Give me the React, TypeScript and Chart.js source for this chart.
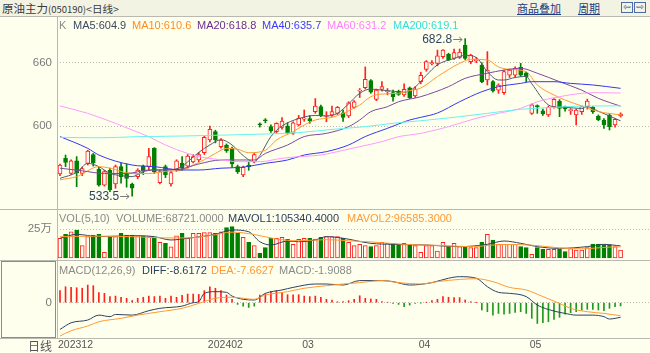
import React, { useEffect, useRef } from "react";
import { Chart, registerables } from "chart.js";

Chart.register(...registerables);

// ---------- colours ----------
const BG = "#ffffee";
const UP = "#ff2020";
const DOWN = "#008000";
const LATIN = '"Liberation Sans", Arial, sans-serif';
const CJK = '"Noto Sans CJK SC", "Liberation Sans", sans-serif';

// ---------- candles (index 0 = late Dec 2023 ... 101 = late May 2024) ----------
const OPEN = [554.5,569.4,555,567,555,564.6,573,559,544,558, 545,561.5,554.5,545,552,562,561.5,578.8,546.3,561.5, 545,558.3,564.6,562,566,567.8,574.7,586.7,594.6,580.4, 582,578.8,561.5,553.6,563,566,601.5,605.3,599.4,594.6, 598.7,600,593,601,606.5,607,613.6,618.3,609,610.4, 612,612.6,609.5,617.7,633,636.3,643,625.3,634.7,632.5, 631.6,633,629.4,636.3,628.4,642,653.7,659,659.4,665.7, 668,664,665,676.8,661,662,657.8,643.6,642,634, 631.6,648.3,648.3,655.6,650.5,612,618.5,614.5,610.4,618.3, 623.7,618.5,614.6,610.4,613.6,618.3,617.7,609.5,605.7,610.4, 601,609.5];
const HIGH = [564,572.5,568,571,561,577,574,561,558,560, 563,564.6,564,546,559.5,563,578.8,579.5,558,563, 557,568,571,573,573,575,591,600,596,588, 583,580,563,562,566,574,603,607,601,603, 608,603,604,610,615.2,610,626,619.8,613.6,619, 618.5,615,623,624,635.5,656,644,635,642,635.5, 634,634,640,637,637.3,651,662,662,672,672.5, 669,673,673,682.8,668,665,660,670.5,643,640, 653,654,656,659.4,651,621,620,616,619,626, 625,619,616.5,616,619,625.5,618.5,610.5,607,612, 607,612.5];
const LOW = [553,561.5,554,542.5,553,563,562,543,543,537.8, 541,545.7,542,533.5,550,554,558,555,545,551, 543,557,558,560,565,566,573,585,584,579, 575,560.8,555,552,558,565,599,603,594,593, 597,592.5,592,600,604.5,602.6,612,608.8,604,609, 611,604.3,608,617,627,635,631,624,633,629.5, 623.5,629,628,626,627,640,652,658,657,664, 662,663,664,663,659,660,641,638.9,632,631, 630,646,646,647,642,611,612,610,609,617, 608.8,614,611,601,611,616,612,605,597.8,596.2, 599,608.5];
const CLOSE = [563,565.6,567,555.5,559.6,576.3,565,543.8,556.7,539.3, 561.5,552,550.4,541,558.3,557.7,571,556.7,556.7,553.6, 555.8,567,560,571.6,571,573,589.3,596.8,586.7,586.7, 576.6,564,556.7,560.8,561.5,573,601,605,595.6,602.5, 604.7,593.7,603,607.3,607,605,619,609.8,609.5,613.6, 617.7,608.2,622,623,634,644.2,632,634,637.3,633, 627.8,630,634.7,626.9,634.7,648,661,660,666.4,672, 662.6,669.5,670,664,667.3,662.6,642,653,633.2,638.9, 651.5,653,654.7,648.3,646.7,620,618.3,611.4,617.7,625.3, 616.7,616.3,615.2,615.2,618.3,623.7,613.6,605.7,601,599.4, 606.3,611.4];

// ---------- moving averages: [candle index, value] ----------
const MA5: [number, number][] = [[0,550.4],[3,556],[5,564.6],[7,561.5],[9,555.1],[11,553],[13,552],[15,556.7],[17,558.3],[19,558.3],[22,561.5],[23,566],[25,575],[27,582],[29,587],[31,582],[33,572],[35,566],[36,572],[38,590],[40,600],[43,607],[46,610],[48,609.5],[50,612],[52,621],[54,631],[56,635],[58,634],[60,633],[62,632],[64,637],[66,648],[68,658],[71,664],[73,667],[75,665],[77,651.5],[79,643.6],[80,643.6],[82,646],[84,647],[85,640],[88,620],[90,617.7],[91,617.7],[94,616.5],[95,618.3],[97,614],[99,609.5],[101,604.9]];
const MA10: [number, number][] = [[0,549],[3,552],[7,561.5],[9,560],[13,555],[16,555],[19,557],[22,558.3],[24,563],[26,568],[28,574],[30,578.8],[32,578],[34,574.7],[37,577],[39,586.7],[42,594.6],[44,601],[46,605.7],[49,608.2],[51,612],[54,619.9],[56,627.8],[58,630.3],[61,631],[63,633.5],[65,636],[68,646.8],[72,659.4],[74,663.2],[77,662.6],[79,656],[81,653.7],[84,651.5],[86,638.9],[89,629.4],[91,624.6],[94,619],[96,615.2],[98,612.6],[101,610.6]];
const MA20: [number, number][] = [[0,560],[4,557.5],[8,555],[12,555],[16,558.3],[21,558.6],[25,564],[29,567.8],[31,567.8],[35,567.8],[37,574],[41,582],[44,590],[48,593],[52,599.4],[54,605.7],[56,613.6],[59,618.3],[61,623],[65,627.8],[70,637.3],[73,645.2],[77,650],[80,653],[83,654.7],[86,650],[90,642],[94,634],[97,626.2],[101,618.8]];
const MA40: [number, number][] = [[0,590],[5,578.8],[7,572.5],[13,563],[17,561.5],[22,558.3],[25,558.3],[29,560],[33,561],[37,564.6],[41,567.8],[44,572.5],[48,575.7],[52,582],[55,590],[59,597.8],[63,605.7],[65,608.2],[68,612.3],[72,623],[76,632.5],[79,637.3],[83,640.4],[85,642],[89,642],[92,640.4],[96,638.9],[101,635.7]];
const MA60: [number, number][] = [[0,619],[5,612],[10,602.5],[13,596.2],[16,589.9],[19,582],[23,574],[26,570],[29,568],[32,566.2],[36,566.2],[40,569.4],[43,570.9],[47,572.5],[50,575.7],[54,580.4],[58,585.2],[61,589.9],[65,593],[70,599.4],[75,607.3],[79,612],[83,616.7],[86,623],[90,627.8],[94,631],[97,631.6],[101,631.2]];
const MA200: [number, number][] = [[0,589.3],[7,588.8],[14,589.9],[22,590.5],[29,591.3],[37,592.4],[43,593.7],[49,596.8],[55,599.4],[61,603.2],[65,605],[71,608.2],[77,612],[83,615.8],[89,617.7],[95,619],[101,619.1]];

// ---------- volume (thousand lots) ----------
const VOLUME = [172,206,229,244,108,186,200,206,49,180, 186,215,200,200,194,194,186,172,136,127, 98,194,215,172,215,215,221,221,215,229, 264,273,215,180,136,108,41,90,172,172, 180,162,119,162,172,172,165,180,186,186, 186,172,137,108,119,108,99,108,137,128, 128,119,128,119,108,49,108,108,61,137, 99,128,99,99,90,90,137,206,157,119, 119,119,119,99,90,32,90,76,76,76, 76,55,81,70,70,90,122,122,113,113, 99,68.7];
const MAVOL1: [number, number][] = [[0,172],[3,206],[7,186],[13,194],[17,186],[20,157],[23,172],[28,206],[31,244],[34,229],[36,142],[38,113],[41,148],[43,142],[46,157],[48,186],[51,172],[56,128],[60,119],[66,113],[72,99],[77,119],[80,148],[83,128],[86,99],[90,84],[95,99],[98,119],[101,105.3]];
const MAVOL2: [number, number][] = [[0,186],[7,190],[13,186],[19,175],[23,175],[27,195],[31,225],[35,205],[39,165],[43,150],[48,160],[52,150],[56,140],[62,119],[68,110],[74,99],[80,118],[85,112],[90,88],[94,80],[99,95],[101,96.6]];

// ---------- MACD ----------
const MACD_BAR = [7.1,9.4,9.0,8.8,8.5,10.4,10.0,5.9,5.5,3.6, 3.9,3.2,2.6,1.2,2.6,3.2,3.9,3.6,3.9,2.6, 3.9,3.2,4.3,5.1,5.1,4.9,7.1,9.4,8.5,7.1, 4.5,2.0,-1.0,-2.0,-2.8,-2.0,4.5,5.1,6.5,7.1, 5.9,4.7,4.7,4.7,3.9,3.6,3.9,3.2,2.0,1.6, 0.6,0.6,1.2,2.0,4.1,2.6,2.2,2.0,0.6,0.2, -0.4,-1.0,-2.4,-1.4,-0.4,-0.1,0.1,1.2,2.0,3.6, 3.2,3.0,3.0,1.6,0.6,0.1,-4.3,-5.3,-7.3,-6.3, -6.7,-6.3,-5.7,-5.3,-6.3,-9.2,-12.2,-11.8,-11.2,-9.8, -8.6,-6.7,-5.9,-5.3,-4.3,-3.9,-3.9,-4.3,-4.7,-3.3, -2.4,-1.9];
const DIFF: [number, number][] = [[0,-15.7],[2,-11.8],[5,-10.2],[7,-7.3],[9,-8.2],[10,-6.9],[13,-7.3],[16,-4.7],[18,-3.3],[22,-2.0],[24,0],[25,0.6],[26,5.5],[28,6.5],[30,6.1],[31,3.9],[33,2.0],[35,1.6],[37,5.5],[40,7.5],[42,9.0],[46,11.0],[48,11.0],[51,10.4],[54,13.0],[58,13.0],[60,12.4],[63,10.4],[67,11.8],[70,14.4],[72,15.3],[75,14.4],[77,9.4],[79,6.1],[81,5.5],[84,3.6],[86,-1.4],[89,-4.9],[91,-6.3],[93,-7.3],[96,-7.3],[98,-8.2],[99,-9.6],[101,-8.6]];
const DEA: [number, number][] = [[0,-19.6],[2,-16.5],[5,-13.7],[7,-11.2],[11,-9.2],[14,-7.3],[18,-5.3],[22,-3.3],[25,-0.4],[28,2.6],[31,3.2],[35,2.0],[37,4.5],[41,6.5],[44,8.5],[48,10.0],[51,11.0],[54,11.8],[58,13.0],[61,11.8],[65,11.0],[68,12.4],[72,13.7],[75,14.1],[78,12.4],[81,9.0],[84,7.5],[87,3.6],[90,-0.4],[92,-3.3],[95,-5.3],[98,-6.3],[101,-7.66]];

// ---------- axis labels ----------
const DATE_TICK_INDEX = [0, 27, 44, 65, 85];
const DATE_TICK_TEXT = ["202312", "202402", "03", "04", "05"];
const PRICE_TICKS = [600, 660];
const VOL_TICKS = [250];
const VOL_TICK_TEXT = ["25万"];
const MACD_TICKS = [0];

const PRICE_LEGEND = [
  { t: "K", c: "#8a8a8a", x: 59 },
  { t: "MA5:604.9", c: "#3c4a60", x: 73 },
  { t: "MA10:610.6", c: "#ff8c1a", x: 132 },
  { t: "MA20:618.8", c: "#6b2d8f", x: 197 },
  { t: "MA40:635.7", c: "#3a3aff", x: 262 },
  { t: "MA60:631.2", c: "#ff80ff", x: 327 },
  { t: "MA200:619.1", c: "#33dddd", x: 393 },
];
const VOL_LEGEND = [
  { t: "VOL(5,10)", c: "#8a8a8a", x: 59 },
  { t: "VOLUME:68721.0000", c: "#8a8a8a", x: 116 },
  { t: "MAVOL1:105340.4000", c: "#2c4060", x: 228 },
  { t: "MAVOL2:96585.3000", c: "#ff9933", x: 347 },
];
const MACD_LEGEND = [
  { t: "MACD(12,26,9)", c: "#8a8a8a", x: 59 },
  { t: "DIFF:-8.6172", c: "#2c4060", x: 142 },
  { t: "DEA:-7.6627", c: "#ff9933", x: 211 },
  { t: "MACD:-1.9088", c: "#8a8a8a", x: 279 },
];

const N = OPEN.length;
const IDX = Array.from({ length: N }, (_, i) => i);
const X_MIN = -0.54;
const X_MAX = 106.3;
const isUp = (i: number) => CLOSE[i] >= OPEN[i];

const yAxisFit = (scale: any) => {
  scale.width = 57;
  scale.paddingTop = 0;
  scale.paddingBottom = 0;
};

const lineDs = (pts: [number, number][], color: string) => ({
  type: "line",
  data: pts.map(([x, y]) => ({ x, y })),
  borderColor: color,
  borderWidth: 1,
  pointRadius: 0,
  fill: false,
  cubicInterpolationMode: "monotone",
  order: 0,
});

const baseOptions = (yMin: number, yMax: number, ticks: number[], tickText?: (v: number) => string) => ({
  responsive: false,
  animation: false,
  events: [],
  devicePixelRatio: 1,
  layout: { padding: 0 },
  plugins: { legend: { display: false }, tooltip: { enabled: false } },
  scales: {
    x: { type: "linear", min: X_MIN, max: X_MAX, display: false, offset: false },
    y: {
      type: "linear",
      position: "left",
      min: yMin,
      max: yMax,
      afterFit: yAxisFit,
      afterBuildTicks: (s: any) => {
        s.ticks = ticks.map((v) => ({ value: v }));
      },
      ticks: {
        padding: 5,
        color: "#7a7a7a",
        font: { family: '"Liberation Sans", "Noto Sans CJK SC", sans-serif', size: 11.5 },
        callback: (v: number) => (tickText ? tickText(v) : String(v)),
      },
      grid: { color: "#bdbdb5", drawTicks: false, lineWidth: 1 },
      border: { display: false, dash: [1, 2] },
    },
  },
});

const extremaPlugin = {
  id: "extrema",
  afterDatasetsDraw(chart: any) {
    const { ctx, scales } = chart;
    const xs = scales.x;
    const ys = scales.y;
    let hi = 0;
    let lo = 0;
    for (let i = 0; i < N; i++) {
      if (HIGH[i] > HIGH[hi]) hi = i;
      if (LOW[i] < LOW[lo]) lo = i;
    }
    const draw = (idx: number, val: number) => {
      const px = xs.getPixelForValue(idx);
      const py = Math.round(ys.getPixelForValue(val)) + 0.5;
      ctx.save();
      ctx.font = `12px ${LATIN}`;
      ctx.fillStyle = "#2d4660";
      ctx.textAlign = "right";
      ctx.textBaseline = "middle";
      ctx.fillText(val.toFixed(1), px - 13, py);
      ctx.strokeStyle = "#7a7a7a";
      ctx.lineWidth = 1;
      ctx.beginPath();
      ctx.moveTo(px - 12, py);
      ctx.lineTo(px - 3, py);
      ctx.moveTo(px - 6, py - 2.5);
      ctx.lineTo(px - 3, py);
      ctx.lineTo(px - 6, py + 2.5);
      ctx.stroke();
      ctx.restore();
    };
    draw(hi, HIGH[hi]);
    draw(lo, LOW[lo]);
  },
};

function priceConfig(): any {
  const opts: any = baseOptions(521.33, 703.32, PRICE_TICKS);
  return {
    type: "bar",
    data: {
      datasets: [
        lineDs(MA200, "#66f2f2"),
        lineDs(MA60, "#ff99ff"),
        lineDs(MA40, "#3636ee"),
        lineDs(MA20, "#7a4aa0"),
        lineDs(MA10, "#ff9a30"),
        lineDs(MA5, "#4f5d70"),
        {
          type: "bar",
          data: IDX.map((i) => ({ x: i, y: [OPEN[i], CLOSE[i]] })),
          backgroundColor: IDX.map((i) => (isUp(i) ? BG : DOWN)),
          borderColor: IDX.map((i) => (isUp(i) ? UP : DOWN)),
          borderWidth: 1,
          borderSkipped: false,
          barThickness: 4,
          maxBarThickness: 4,
          minBarLength: 1,
          grouped: false,
          order: 1,
        },
        {
          type: "bar",
          data: IDX.map((i) => ({ x: i, y: [LOW[i], HIGH[i]] })),
          backgroundColor: IDX.map((i) => (isUp(i) ? UP : DOWN)),
          borderWidth: 0,
          barThickness: 1,
          maxBarThickness: 1,
          grouped: false,
          order: 2,
        },
      ],
    },
    options: opts,
    plugins: [extremaPlugin],
  };
}

function volConfig(): any {
  const opts: any = baseOptions(-17.4, 418.1, VOL_TICKS, (v) => VOL_TICK_TEXT[VOL_TICKS.indexOf(v)] ?? "");
  return {
    type: "bar",
    data: {
      datasets: [
        lineDs(MAVOL2, "#ff9933"),
        lineDs(MAVOL1, "#2c4060"),
        {
          type: "bar",
          data: IDX.map((i) => ({ x: i, y: VOLUME[i] })),
          backgroundColor: IDX.map((i) => (isUp(i) ? BG : DOWN)),
          borderColor: IDX.map((i) => (isUp(i) ? UP : DOWN)),
          borderWidth: 1,
          borderSkipped: false,
          barThickness: 4,
          maxBarThickness: 4,
          grouped: false,
          order: 1,
        },
      ],
    },
    options: opts,
  };
}

function macdConfig(): any {
  const opts: any = baseOptions(-20.76, 24.53, MACD_TICKS);
  opts.scales.x = {
    type: "linear",
    min: X_MIN,
    max: X_MAX,
    offset: false,
    position: "bottom",
    afterFit: (s: any) => {
      s.height = 15;
      s.paddingLeft = 0;
      s.paddingRight = 0;
    },
    afterBuildTicks: (s: any) => {
      s.ticks = DATE_TICK_INDEX.map((v) => ({ value: v }));
    },
    ticks: {
      align: "start",
      labelOffset: -2,
      padding: 1,
      maxRotation: 0,
      autoSkip: false,
      color: "#555555",
      font: { family: LATIN, size: 10.5 },
      callback: (v: number) => DATE_TICK_TEXT[DATE_TICK_INDEX.indexOf(v)] ?? "",
    },
    grid: { display: false, drawTicks: false },
    border: { display: false },
  };
  return {
    type: "bar",
    data: {
      datasets: [
        lineDs(DEA, "#ff9933"),
        lineDs(DIFF, "#2c4060"),
        {
          type: "bar",
          data: IDX.map((i) => ({ x: i, y: MACD_BAR[i] })),
          backgroundColor: IDX.map((i) => (MACD_BAR[i] >= 0 ? "#ff2020" : "#1f9a1f")),
          borderWidth: 0,
          barThickness: 1,
          maxBarThickness: 1,
          grouped: false,
          order: 1,
        },
      ],
    },
    options: opts,
  };
}

const abs = (s: React.CSSProperties): React.CSSProperties => ({ position: "absolute", ...s });
const LINE = "#b9b9b1";

function Legend({ items, top }: { items: { t: string; c: string; x: number }[]; top: number }) {
  return (
    <>
      {items.map((it) => (
        <span
          key={it.t}
          style={abs({ left: it.x, top, fontFamily: LATIN, fontSize: 11, lineHeight: "13px", color: it.c, whiteSpace: "nowrap" })}
        >
          {it.t}
        </span>
      ))}
    </>
  );
}

export default function App() {
  const priceRef = useRef<HTMLCanvasElement>(null);
  const volRef = useRef<HTMLCanvasElement>(null);
  const macdRef = useRef<HTMLCanvasElement>(null);

  useEffect(() => {
    const charts = [
      new Chart(priceRef.current as HTMLCanvasElement, priceConfig()),
      new Chart(volRef.current as HTMLCanvasElement, volConfig()),
      new Chart(macdRef.current as HTMLCanvasElement, macdConfig()),
    ];
    return () => charts.forEach((c) => c.destroy());
  }, []);

  return (
    <div style={{ position: "fixed", left: 0, top: 0, width: 650, height: 353, background: BG, overflow: "hidden" }}>
      {/* header bar */}
      <div style={abs({ left: 0, top: 0, width: 650, height: 16, background: "#f3f3e3", borderBottom: `1px solid ${LINE}` })} />
      <div style={abs({ left: 2, top: 0, lineHeight: "16px", fontFamily: CJK, fontSize: 11.5, color: "#3a3a3a", whiteSpace: "nowrap" })}>
        原油主力<span style={{ fontSize: 9.5 }}>(050190)</span>
        <span style={{ fontSize: 10.5 }}>&lt;日线&gt;</span>
      </div>
      <div style={abs({ left: 517, top: 0, lineHeight: "16px", fontFamily: CJK, fontSize: 11, color: "#1d3c84", textDecoration: "underline" })}>商品叠加</div>
      <div style={abs({ left: 578, top: 0, lineHeight: "16px", fontFamily: CJK, fontSize: 11, color: "#1d3c84", textDecoration: "underline" })}>周期</div>
      <div style={abs({ left: 621, top: 2, width: 12, height: 11, boxSizing: "border-box", border: "1px solid #4a6aa8", fontSize: 9, lineHeight: "9px", textAlign: "center", color: "#2a4a98", fontFamily: '"DejaVu Sans"' })}>⇦</div>
      <div style={abs({ left: 634, top: 2, width: 12, height: 11, boxSizing: "border-box", border: "1px solid #4a6aa8", fontSize: 9, lineHeight: "9px", textAlign: "center", color: "#2a4a98", fontFamily: '"DejaVu Sans"' })}>⇨</div>

      <canvas ref={priceRef} width={650} height={192} style={abs({ left: 0, top: 17, width: 650, height: 192 })} />
      <canvas ref={volRef} width={650} height={50} style={abs({ left: 0, top: 210, width: 650, height: 50 })} />
      <canvas ref={macdRef} width={650} height={92} style={abs({ left: 0, top: 261, width: 650, height: 92 })} />

      {/* frame lines */}
      <div style={abs({ left: 57, top: 17, width: 1, height: 321, background: LINE })} />
      <div style={abs({ left: 0, top: 209, width: 650, height: 1, background: LINE })} />
      <div style={abs({ left: 0, top: 260, width: 650, height: 1, background: LINE })} />
      <div style={abs({ left: 0, top: 338, width: 650, height: 1, background: LINE })} />
      <div style={abs({ left: 1, top: 261, width: 55, height: 77, boxSizing: "border-box", border: "1px solid #8c8c8c" })} />

      <Legend items={PRICE_LEGEND} top={19} />
      <Legend items={VOL_LEGEND} top={212} />
      <Legend items={MACD_LEGEND} top={264} />

      <div style={abs({ left: 0, top: 339, width: 52, textAlign: "right", lineHeight: "14px", fontFamily: CJK, fontSize: 12, color: "#555" })}>日线</div>
    </div>
  );
}
